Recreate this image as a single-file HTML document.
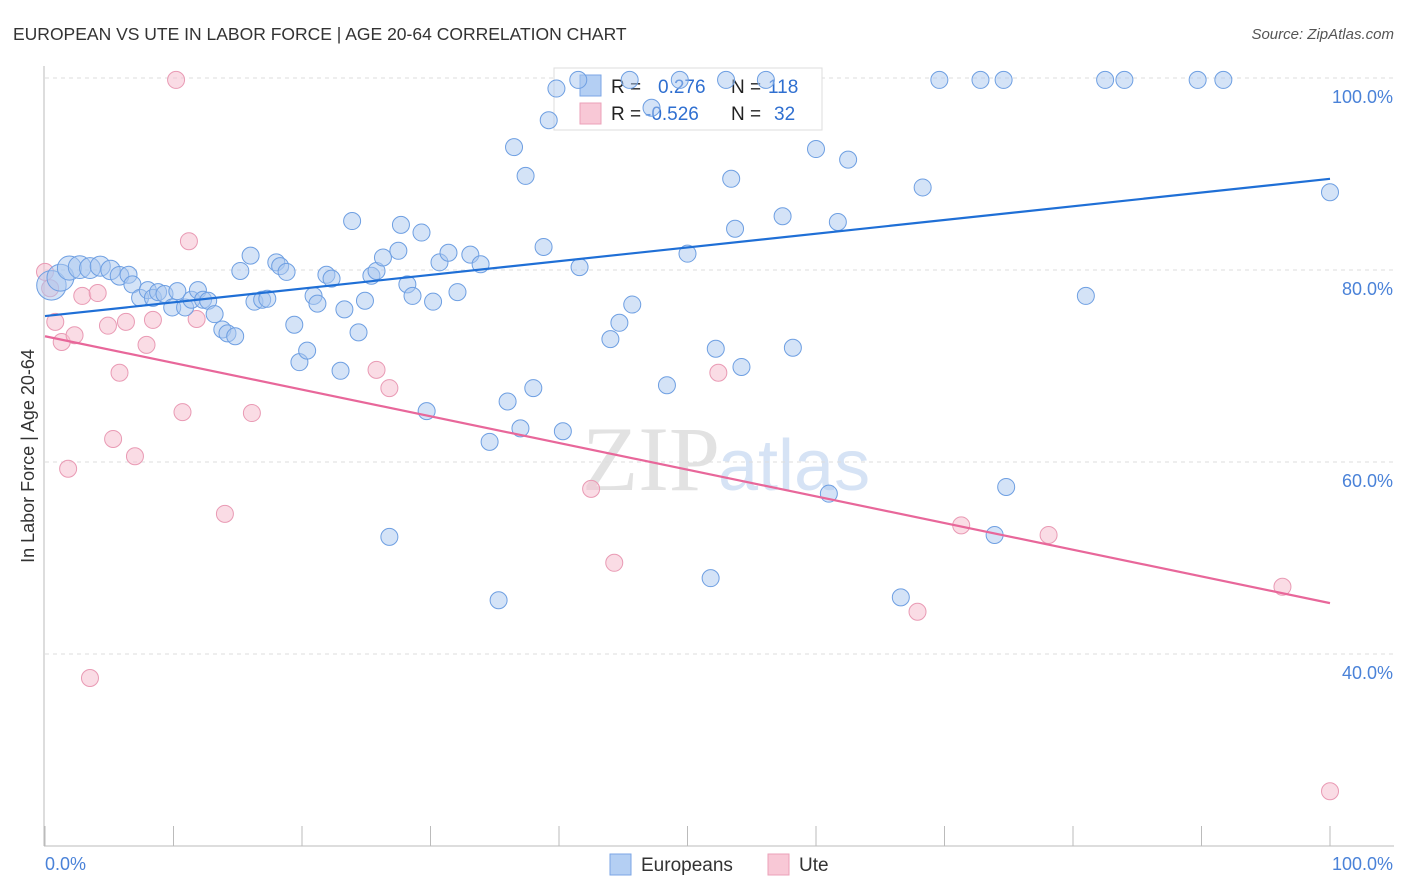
<!DOCTYPE html>
<html><head><meta charset="utf-8"><style>
body{margin:0;background:#fff;font-family:"Liberation Sans",sans-serif;}
svg{display:block}
</style></head><body>
<svg id="chart" width="1406" height="892">
<text x="13" y="40" font-size="17.5" fill="#333">EUROPEAN VS UTE IN LABOR FORCE | AGE 20-64 CORRELATION CHART</text>
<text x="1394" y="39" font-size="15" fill="#555" font-style="italic" text-anchor="end">Source: ZipAtlas.com</text>
<text x="720" y="490" font-size="92" fill="#e2e2e2" text-anchor="end" font-family="Liberation Serif,serif">ZIP</text>
<text x="718" y="490" font-size="72" fill="#d6e3f5">atlas</text>
<g id="grid"></g><g id="axes"></g>
<g>
<rect x="554" y="68" width="268" height="62" fill="#fff" stroke="#ddd"/>
<rect x="580" y="75" width="21" height="21" fill="#b4cff3" stroke="#7ba6e6"/>
<rect x="580" y="103" width="21" height="21" fill="#f8c8d6" stroke="#eba1b8"/>
<text x="611" y="93" font-size="19" fill="#222">R = <tspan x="658" fill="#2f6fd0">0.276</tspan></text>
<text x="731" y="93" font-size="19" fill="#222">N = <tspan x="768" fill="#2f6fd0">118</tspan></text>
<text x="611" y="120" font-size="19" fill="#222">R = <tspan x="645" fill="#2f6fd0">-0.526</tspan></text>
<text x="731" y="120" font-size="19" fill="#222">N = <tspan x="774" fill="#2f6fd0">32</tspan></text>
</g>
<g id="pts"></g><g id="lines"></g>
<text transform="translate(34,456) rotate(-90)" font-size="18" fill="#333" text-anchor="middle">In Labor Force | Age 20-64</text>
<g>
<rect x="610" y="854" width="21" height="21" fill="#b4cff3" stroke="#7ba6e6"/>
<text x="641" y="871" font-size="19" fill="#333">Europeans</text>
<rect x="768" y="854" width="21" height="21" fill="#f8c8d6" stroke="#eba1b8"/>
<text x="799" y="871" font-size="19" fill="#333">Ute</text>
</g>
</svg>
<script>
const blueX=[0.5,1.2,1.9,2.7,3.5,4.3,5.1,5.8,6.5,6.8,7.4,8.0,8.4,8.8,9.3,9.9,10.3,10.9,11.4,11.9,12.3,12.7,13.2,13.8,14.2,14.8,15.2,16.0,16.3,16.9,17.3,18.0,18.3,18.8,19.4,19.8,20.4,20.9,21.2,21.9,22.3,23.0,23.3,23.9,24.4,24.9,25.4,25.8,26.3,26.8,27.5,27.7,28.2,28.6,29.3,29.7,30.2,30.7,31.4,32.1,33.1,33.9,34.6,35.3,36.0,36.5,37.0,37.4,38.0,38.8,39.2,39.8,40.3,41.5,41.6,44.0,44.7,45.5,45.7,47.2,48.4,49.4,50.0,51.8,52.2,53.0,53.4,53.7,54.2,56.1,57.4,58.2,60.0,61.0,61.7,62.5,66.6,68.3,69.6,72.8,73.9,74.6,74.8,81.0,82.5,84.0,89.7,91.7,100];
const blueY=[78.4,79.2,80.2,80.3,80.2,80.4,80.0,79.4,79.5,78.5,77.1,77.9,77.1,77.7,77.5,76.1,77.8,76.1,76.9,77.9,76.9,76.8,75.4,73.8,73.4,73.1,79.9,81.5,76.7,76.9,77.0,80.8,80.4,79.8,74.3,70.4,71.6,77.3,76.5,79.5,79.1,69.5,75.9,85.1,73.5,76.8,79.4,79.9,81.3,52.2,82.0,84.7,78.5,77.3,83.9,65.3,76.7,80.8,81.8,77.7,81.6,80.6,62.1,45.6,66.3,92.8,63.5,89.8,67.7,82.4,95.6,98.9,63.2,99.8,80.3,72.8,74.5,99.8,76.4,96.9,68.0,99.8,81.7,47.9,71.8,99.8,89.5,84.3,69.9,99.8,85.6,71.9,92.6,56.7,85.0,91.5,45.9,88.6,99.8,99.8,52.4,99.8,57.4,77.3,99.8,99.8,99.8,99.8,88.1];
const blueW=[3,2.5,2,1.8,1.5,1.4,1.3,1.2];
const pinkX=[0,0.4,0.8,1.3,1.8,2.3,2.9,3.5,4.1,4.9,5.3,5.8,6.3,7.0,7.9,8.4,10.2,10.7,11.2,11.8,14.0,16.1,25.8,26.8,42.5,44.3,52.4,67.9,71.3,78.1,96.3,100];
const pinkY=[79.8,78.1,74.6,72.5,59.3,73.2,77.3,37.5,77.6,74.2,62.4,69.3,74.6,60.6,72.2,74.8,99.8,65.2,83.0,74.9,54.6,65.1,69.6,67.7,57.2,49.5,69.3,44.4,53.4,52.4,47.0,25.7];
const blueTrend=[75.2,89.5];
const pinkTrend=[73.1,45.3];
const yTicks=[40,60,80,100];
const yTickLabels=["40.0%","60.0%","80.0%","100.0%"];
const xTicks=[0,10,20,30,40,50,60,70,80,90,100];

const NS="http://www.w3.org/2000/svg";
const sx=v=>45+v*12.85, sy=v=>78+(100-v)*9.6;
function mk(tag,attrs,parent){const e=document.createElementNS(NS,tag);for(const k in attrs)e.setAttribute(k,attrs[k]);document.getElementById(parent).appendChild(e);return e;}
yTicks.forEach((t,i)=>{
 const g=mk('line',{x1:45,x2:1394,y1:sy(t),y2:sy(t),stroke:'#ddd','stroke-dasharray':'4,4'},'grid');
 
 
 const l=mk('text',{x:1393,y:sy(t)+25,'font-size':18,fill:'#4a82d8','text-anchor':'end'},'axes');
 l.textContent=yTickLabels[i];
 
 
});
const ya=mk('line',{x1:44,x2:44,y1:66,y2:846,stroke:'#bbb'},'axes');


const xa=mk('line',{x1:44,x2:1394,y1:846,y2:846,stroke:'#bbb'},'axes');


xTicks.forEach(t=>{
 const k=mk('line',{x1:sx(t),x2:sx(t),y1:826,y2:846,stroke:'#bbb'},'axes');
 
 
});
const x0=mk('text',{x:45,y:870,'font-size':18,fill:'#4a82d8'},'axes');x0.textContent='0.0%';


const x1=mk('text',{x:1393,y:870,'font-size':18,fill:'#4a82d8','text-anchor':'end'},'axes');x1.textContent='100.0%';


pinkX.forEach((x,i)=>{
 const c=mk('circle',{cx:sx(x),cy:sy(pinkY[i]),r:8.5,fill:'#f6bfd0','fill-opacity':0.55,stroke:'#e99ab4','stroke-width':1},'pts');
 
 
});
blueX.forEach((x,i)=>{
 const r=8.5*Math.sqrt(blueW[i]||1);
 const c=mk('circle',{cx:sx(x),cy:sy(blueY[i]),r:r,fill:'#a9c8f0','fill-opacity':0.5,stroke:'#6e9fe2','stroke-width':1},'pts');
 
 
});
const bl=mk('line',{x1:sx(0),y1:sy(blueTrend[0]),x2:sx(100),y2:sy(blueTrend[1]),stroke:'#1f6fd6','stroke-width':2.2},'lines');


const pl=mk('line',{x1:sx(0),y1:sy(pinkTrend[0]),x2:sx(100),y2:sy(pinkTrend[1]),stroke:'#e8679a','stroke-width':2.2},'lines');


</script>
</body></html>
